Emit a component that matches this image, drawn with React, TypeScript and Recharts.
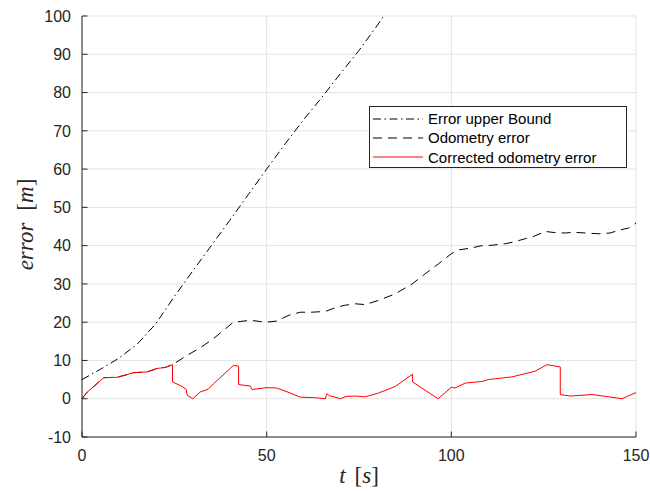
import React from "react";
import { LineChart, Line, XAxis, YAxis, CartesianGrid, Legend } from "recharts";

// upper bound (dash-dot)
const upperT = [0, 5, 10, 15, 20, 25, 30, 35, 40, 45, 50, 55, 60, 65, 70, 75, 80, 81.7];
const upperV = [5, 7.7, 10.6, 14.3, 19.6, 26.7, 33.4, 40, 46.6, 53.3, 60, 66.6, 72.9, 78.8, 85, 91, 97.6, 100];

// odometry error (dashed)
const odoT = [
  0, 1.4, 5.9, 9.5, 12.2, 13.9, 17.6, 20.3, 22.6, 24.5, 28.4, 32, 35.6, 41, 43, 45.6, 48, 50, 52.7, 56,
  59.1, 62, 65.9, 68.6, 71, 74, 76.7, 80.3, 84.8, 89.4, 93, 96.6, 100, 102, 105, 108.3, 111, 114.6, 117,
  120, 122.5, 125.5, 128, 130.9, 133, 136.3, 139.9, 143, 145.3, 148, 150,
];
const odoV = [
  0, 1.7, 5.5, 5.6, 6.3, 6.8, 7, 7.9, 8.2, 8.9, 11.3, 13.3, 15.7, 20, 20.2, 20.5, 20.2, 20, 20.3, 21.8,
  22.6, 22.6, 22.8, 23.8, 24.4, 24.8, 24.6, 25.7, 27.4, 30, 32.7, 35.3, 37.9, 38.9, 39.3, 40, 40.1, 40.5, 41,
  41.8, 42.5, 43.7, 43.4, 43.3, 43.5, 43.3, 43.1, 43.3, 44, 44.6, 45.9,
];

// corrected odometry error (red)
const corrT = [
  0, 1.4, 5.9, 9.5, 12.2, 13.9, 17.6, 20.3, 22.6, 24.5, 24.5, 27.1, 28.2, 28.5, 30, 32, 34.2, 35.6, 41,
  42.4, 42.4, 45.6, 46, 50, 52.7, 56.4, 59.1, 62.7, 65.9, 66.3, 67, 70, 71.5, 74.2, 76.7, 80.3, 84.8, 89.5,
  89.5, 96.4, 100, 101, 103.8, 108.3, 110, 116.4, 122.7, 125.9, 129.5, 129.5, 132.2, 138.1, 146.2, 150,
];
const corrV = [
  0, 1.7, 5.5, 5.6, 6.3, 6.8, 7, 7.9, 8.2, 8.9, 4.4, 3.2, 2.4, 0.9, 0, 1.75, 2.5, 3.9, 8.7,
  8.5, 3.7, 3.3, 2.4, 2.9, 2.8, 1.5, 0.4, 0.3, 0, 1.3, 0.8, 0, 0.6, 0.7, 0.5, 1.5, 3.2, 6.4,
  4.4, 0, 3, 2.8, 4.1, 4.5, 5, 5.7, 7.2, 8.9, 8.3, 1.1, 0.7, 1.1, 0, 1.6,
];

const xTicks = [0, 50, 100, 150];
const yTicks = [-10, 0, 10, 20, 30, 40, 50, 60, 70, 80, 90, 100];

const seriesNames = ["Error upper Bound", "Odometry error", "Corrected odometry error"];

const zip = (t: number[], v: number[]) => t.map((x, i) => ({ t: x, v: v[i] }));

const AXIS = "#262626";
const SANS = "'Liberation Sans', Arial, sans-serif";
const SERIF = "'Liberation Serif', 'Times New Roman', serif";
const DASHDOT = "8 3.5 1.5 3.5";
const DASHED = "9 6";

function XTick({ x, y, payload }: any) {
  const axisY = y - 12;
  return (
    <g>
      <line x1={x} x2={x} y1={axisY} y2={axisY - 5.5} stroke={AXIS} />
      <text x={x} y={y} dy="0.72em" textAnchor="middle" fontFamily={SANS} fontSize={16} fill={AXIS}>
        {payload.value}
      </text>
    </g>
  );
}

function YTick({ x, y, payload }: any) {
  const axisX = x + 11;
  return (
    <g>
      <line x1={axisX} x2={axisX + 5.5} y1={y} y2={y} stroke={AXIS} />
      <text x={x} y={y} dy="0.36em" textAnchor="end" fontFamily={SANS} fontSize={16} fill={AXIS}>
        {payload.value}
      </text>
    </g>
  );
}

function YTitle(props: any) {
  const vb = props.viewBox;
  const x = vb.x + 33;
  const y = vb.y + vb.height / 2 - 2;
  return (
    <text
      x={x}
      y={y}
      textAnchor="middle"
      transform={`rotate(-90, ${x}, ${y})`}
      fontFamily={SERIF}
      fontSize={23}
      fill={AXIS}
    >
      <tspan fontStyle="italic">error</tspan>
      <tspan dx={12}>[</tspan>
      <tspan fontStyle="italic">m</tspan>
      <tspan>]</tspan>
    </text>
  );
}

function XTitle(props: any) {
  const vb = props.viewBox;
  const x = vb.x + vb.width / 2;
  const y = vb.y + 46;
  return (
    <text x={x} y={y} textAnchor="middle" fontFamily={SERIF} fontSize={23} fill={AXIS}>
      <tspan fontStyle="italic">t</tspan>
      <tspan dx={9}>[</tspan>
      <tspan fontStyle="italic">s</tspan>
      <tspan>]</tspan>
    </text>
  );
}

function LegendBox() {
  const rows = [
    { name: seriesNames[0], color: "#000", dash: DASHDOT },
    { name: seriesNames[1], color: "#000", dash: DASHED },
    { name: seriesNames[2], color: "#ff0000", dash: undefined },
  ];
  return (
    <div
      style={{
        boxSizing: "border-box",
        width: 258,
        height: 62,
        border: `1px solid ${AXIS}`,
        background: "#fff",
        fontFamily: SANS,
        fontSize: 15,
        color: "#000",
        paddingTop: 2,
      }}
    >
      {rows.map((r) => (
        <div key={r.name} style={{ display: "flex", alignItems: "center", height: 19.3 }}>
          <svg width={58} height={10} style={{ flex: "none" }}>
            <line x1={3} x2={53} y1={5} y2={5} stroke={r.color} strokeWidth={1} strokeDasharray={r.dash} />
          </svg>
          <span style={{ whiteSpace: "nowrap", lineHeight: "19px" }}>{r.name}</span>
        </div>
      ))}
    </div>
  );
}

export default function App() {
  return (
    <div style={{ position: "absolute", left: 0, top: 0, width: 650, height: 491, background: "#fff" }}>
      <LineChart width={650} height={491} margin={{ top: 16, right: 14, bottom: 0, left: 0 }}>
        <CartesianGrid stroke="#e3e3e3" strokeWidth={1} />
        <XAxis
          type="number"
          dataKey="t"
          domain={[0, 150]}
          ticks={xTicks}
          height={54}
          tickSize={0}
          tickMargin={12}
          tick={<XTick />}
          axisLine={{ stroke: AXIS }}
          label={(p: any) => <XTitle {...p} />}
        />
        <YAxis
          type="number"
          domain={[-10, 100]}
          ticks={yTicks}
          width={82}
          tickSize={0}
          tickMargin={11}
          tick={<YTick />}
          axisLine={{ stroke: AXIS }}
          allowDataOverflow
          label={(p: any) => <YTitle {...p} />}
        />
        <Legend
          layout="horizontal"
          verticalAlign="middle"
          align="center"
          width={258}
          height={62}
          wrapperStyle={{ left: 369, top: 106, width: 258, height: 62 }}
          content={() => <LegendBox />}
        />
        <Line
          data={zip(upperT, upperV)}
          dataKey="v"
          name={seriesNames[0]}
          type="linear"
          stroke="#000"
          strokeWidth={1}
          strokeDasharray={DASHDOT}
          dot={false}
          activeDot={false}
          isAnimationActive={false}
        />
        <Line
          data={zip(odoT, odoV)}
          dataKey="v"
          name={seriesNames[1]}
          type="linear"
          stroke="#000"
          strokeWidth={1}
          strokeDasharray={DASHED}
          dot={false}
          activeDot={false}
          isAnimationActive={false}
        />
        <Line
          data={zip(corrT, corrV)}
          dataKey="v"
          name={seriesNames[2]}
          type="linear"
          stroke="#ff0000"
          strokeWidth={1}
          dot={false}
          activeDot={false}
          isAnimationActive={false}
        />
      </LineChart>
    </div>
  );
}
